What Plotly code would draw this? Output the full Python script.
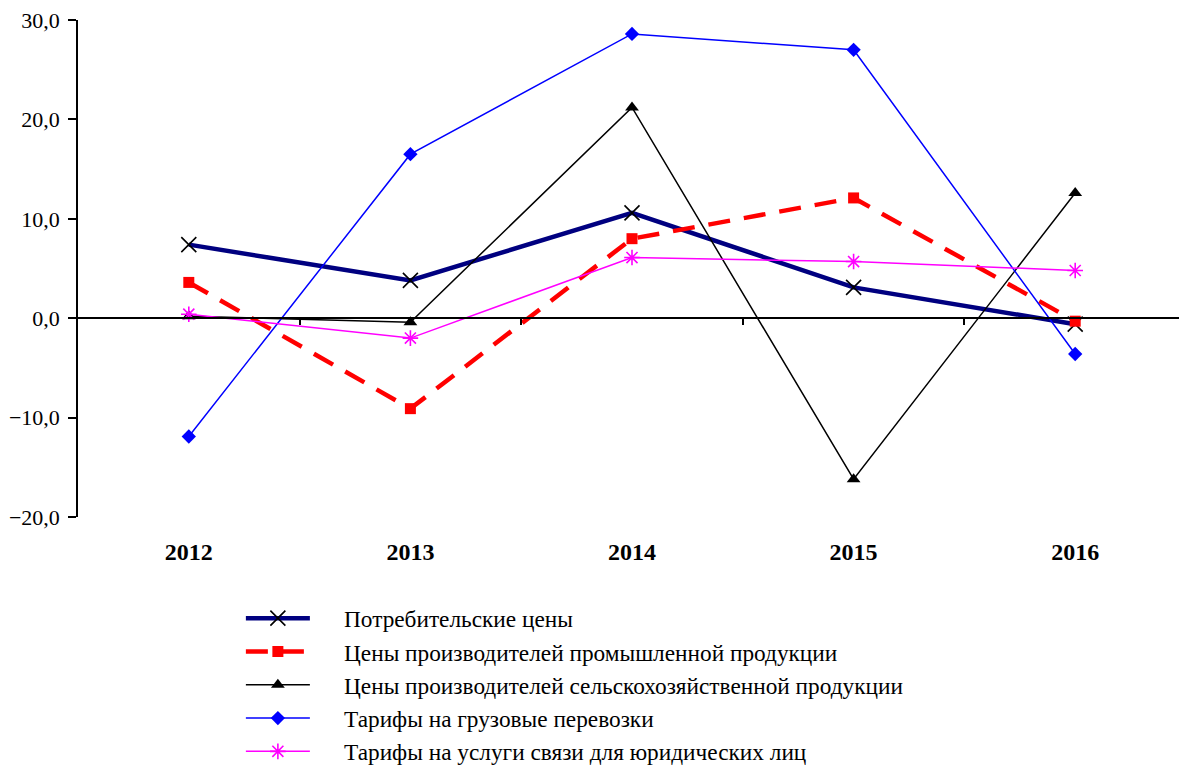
import plotly.graph_objects as go

years = ["2012", "2013", "2014", "2015", "2016"]
consumer = [7.4, 3.8, 10.6, 3.1, -0.6]
industrial = [3.6, -9.1, 8.0, 12.1, -0.3]
agricultural = [0.2, -0.4, 21.2, -16.2, 12.6]
freight = [-11.9, 16.5, 28.6, 27.0, -3.6]
communication = [0.4, -2.0, 6.1, 5.7, 4.8]

names = [
    "Потребительские цены",
    "Цены производителей промышленной продукции",
    "Цены производителей сельскохозяйственной продукции",
    "Тарифы на грузовые перевозки",
    "Тарифы на услуги связи для юридических лиц",
]

xpos = list(range(len(years)))
FONT = "Liberation Serif, Times New Roman, serif"
PAD = "\u00a0" * 5

fig = go.Figure()
fig.add_trace(go.Scatter(x=xpos, y=consumer, name=PAD + names[0], mode="lines+markers",
                         line=dict(color="#000080", width=4.5),
                         marker=dict(symbol="x-thin", size=15, line=dict(color="black", width=1.6), color="black"),
                         legendgroup="a"))
fig.add_trace(go.Scatter(x=xpos, y=industrial, name=PAD + names[1], mode="lines+markers",
                         line=dict(color="#FF0000", width=4.5, dash="22px,14px"),
                         marker=dict(symbol="square", size=11, color="#FF0000"),
                         legendgroup="b"))
fig.add_trace(go.Scatter(x=xpos, y=agricultural, name=PAD + names[2], mode="lines+markers",
                         line=dict(color="black", width=1.5),
                         marker=dict(symbol="triangle-up", size=12, color="black"),
                         legendgroup="c"))
fig.add_trace(go.Scatter(x=xpos, y=freight, name=PAD + names[3], mode="lines+markers",
                         line=dict(color="#0000FF", width=1.5),
                         marker=dict(symbol="diamond", size=11, color="#0000FF"),
                         legendgroup="d"))
fig.add_trace(go.Scatter(x=xpos, y=communication, name=PAD + names[4], mode="lines+markers",
                         line=dict(color="#FF00FF", width=1.5),
                         marker=dict(symbol="asterisk-open", size=13, line=dict(color="#FF00FF", width=1.6)),
                         legendgroup="e"))

fig.update_traces(cliponaxis=False)

fig.update_layout(
    width=1179, height=761,
    margin=dict(l=70, r=1, t=12, b=252, autoexpand=False),
    paper_bgcolor="white", plot_bgcolor="white",
    separators=", ",
    font=dict(family=FONT, size=22, color="black"),
    showlegend=True,
    legend=dict(
        x=0.147, y=-0.16, xanchor="left", yanchor="top",
        orientation="v", traceorder="grouped", tracegroupgap=0,
        itemwidth=64, font=dict(family=FONT, size=23.3, color="black"),
        bgcolor="rgba(0,0,0,0)",
    ),
    xaxis=dict(
        range=[-0.5, 4.5], tickvals=xpos, ticktext=years,
        showline=False, showgrid=False, zeroline=False, ticks="",
        tickfont=dict(family=FONT, size=24, color="black", weight="bold"),
        ticklabelstandoff=18, automargin=False, ticklabeloverflow="allow",
    ),
    xaxis2=dict(
        overlaying="x", anchor="free", position=0.4, matches="x",
        range=[-0.5, 4.5], tickvals=[0.5, 1.5, 2.5, 3.5, 4.5],
        showticklabels=False, showline=True, linecolor="black", linewidth=1.5,
        ticks="outside", ticklen=6, tickcolor="black", tickwidth=1.5,
        showgrid=False, zeroline=False, automargin=False,
    ),
    yaxis=dict(
        range=[-20, 30], tickvals=[-20, -10, 0, 10, 20, 30], tickformat=".1f",
        showline=True, linecolor="black", linewidth=1.5,
        ticks="outside", ticklen=8, tickcolor="black", tickwidth=1.5,
        showgrid=False, zeroline=False, automargin=False,
        tickfont=dict(family=FONT, size=22, color="black"),
        ticklabelstandoff=4, ticklabeloverflow="allow",
    ),
)
fig.add_trace(go.Scatter(x=[None], y=[None], xaxis="x2", showlegend=False, hoverinfo="skip"))

fig.write_html("out.html")
